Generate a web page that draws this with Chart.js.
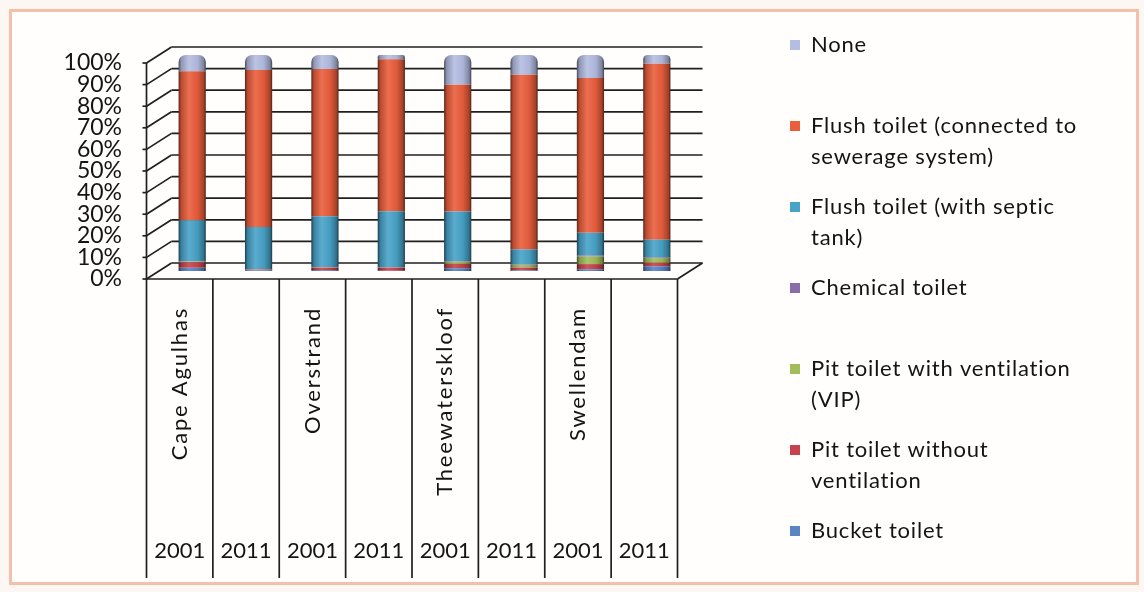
<!DOCTYPE html>
<html>
<head>
<meta charset="utf-8">
<script src="https://cdn.jsdelivr.net/npm/chart.js@4.4.1/dist/chart.umd.min.js"></script>
<style>
  html, body { margin: 0; padding: 0; background: #fdf7f4; }
  #frame { position: absolute; left: 9px; top: 9px; width: 1124px; height: 570px; border: 3px solid #f4bfab; background: #fffefc; }
  #wrap { position: absolute; left: 0; top: 0; width: 1144px; height: 592px; }
</style>
</head>
<body>
<div id="frame"></div>
<div id="wrap"><canvas id="chartToilets" width="1144" height="592"></canvas></div>
<script>
// categories: municipality (shown once per pair) and census year
const municipalities = ["Cape Agulhas", "", "Overstrand", "", "Theewaterskloof", "", "Swellendam", ""];
const years = ["2001", "2011", "2001", "2011", "2001", "2011", "2001", "2011"];
const yTicks = [0, 10, 20, 30, 40, 50, 60, 70, 80, 90, 100];

// share of households (%)
const bucketToilet   = [1.5, 0.3, 0.4, 0.1, 1.3, 0.3, 0.8, 2.2];
const pitNoVent      = [2.5, 0.4, 1.2, 1.5, 2.0, 1.3, 2.4, 1.6];
const pitVip         = [0.3, 0.1, 0.1, 0.05, 1.0, 1.2, 3.5, 2.2];
const chemical       = [0.2, 0.1, 0.1, 0.05, 0.3, 0.2, 0.5, 0.3];
const flushSeptic    = [19.0, 19.5, 23.5, 26.0, 23.0, 7.0, 10.5, 8.2];
const flushSewerage  = [69.0, 72.6, 68.2, 70.3, 58.6, 80.8, 71.7, 81.5];
const noneToilet     = [7.5, 7.0, 6.5, 2.0, 13.8, 9.2, 10.6, 4.0];

// legend text, split the way the original wraps it
const seriesLabels = [
  ["Bucket toilet"],
  ["Pit toilet without", "ventilation"],
  ["Pit toilet with ventilation", "(VIP)"],
  ["Chemical toilet"],
  ["Flush toilet (with septic", "tank)"],
  ["Flush toilet (connected to", "sewerage system)"],
  ["None"]
];
const seriesColors = ["#5a84c2", "#c6434b", "#a1bd5c", "#8a6ca8", "#48a3c8", "#ea5e3c", "#b4bde2"];
const seriesValues = [bucketToilet, pitNoVent, pitVip, chemical, flushSeptic, flushSewerage, noneToilet];

const depth = { x: 12.5, y: 8 };   // half depth of the 3d box
const barFrac = 0.41;
const textColor = "#141414";

function shade(hex, amt) {
  let r = parseInt(hex.slice(1, 3), 16), g = parseInt(hex.slice(3, 5), 16), b = parseInt(hex.slice(5, 7), 16);
  const f = (c) => Math.round(amt < 0 ? c * (1 + amt) : c + (255 - c) * amt);
  return "rgb(" + f(r) + "," + f(g) + "," + f(b) + ")";
}

// cylinder-ish horizontal shading
function cylinder(color) {
  return function (c) {
    const xs = c.chart.scales.x;
    if (!xs || c.dataIndex === undefined) return color;
    const cx = xs.getPixelForValue(c.dataIndex);
    const hw = (xs.width / years.length) * barFrac / 2;
    if (!isFinite(cx) || !isFinite(hw) || hw <= 0) return color;
    const g = c.chart.ctx.createLinearGradient(cx - hw, 0, cx + hw, 0);
    g.addColorStop(0, shade(color, -0.6));
    g.addColorStop(0.1, shade(color, -0.2));
    g.addColorStop(0.38, shade(color, 0.1));
    g.addColorStop(0.7, shade(color, -0.05));
    g.addColorStop(0.92, shade(color, -0.3));
    g.addColorStop(1, shade(color, -0.65));
    return g;
  };
}

function line(ctx, x1, y1, x2, y2) {
  ctx.beginPath(); ctx.moveTo(x1, y1); ctx.lineTo(x2, y2); ctx.stroke();
}

// back wall, floor and the category table lines
const box3d = {
  id: "box3d",
  beforeDatasetsDraw(chart) {
    const { ctx, chartArea } = chart;
    const ys = chart.scales.y, xs = chart.scales.x;
    const left = chartArea.left, right = chartArea.right;
    const bottomEnd = chart.height - 14;
    ctx.save();
    ctx.strokeStyle = "#1f1f1f";
    ctx.lineWidth = 1.7;
    yTicks.forEach((v) => {
      const y = ys.getPixelForValue(v);
      line(ctx, left + depth.x, y - depth.y, right + depth.x, y - depth.y);
      line(ctx, left - depth.x, y + depth.y, left + depth.x, y - depth.y);
      line(ctx, left - depth.x - 4, y + depth.y, left - depth.x, y + depth.y);
    });
    const y0 = ys.getPixelForValue(0), y100 = ys.getPixelForValue(100);
    line(ctx, left - depth.x, y0 + depth.y, right - depth.x, y0 + depth.y);
    line(ctx, right - depth.x, y0 + depth.y, right + depth.x, y0 - depth.y);
    line(ctx, left - depth.x, y100 + depth.y, left - depth.x, bottomEnd);
    const half = xs.width / years.length / 2;
    for (let i = 0; i < years.length; i++) {
      const xb = xs.getPixelForValue(i) + half - depth.x;
      line(ctx, xb, y0 + depth.y, xb, bottomEnd);
    }
    ctx.restore();
  },
  afterDraw(chart) {
    // municipality names, vertical, top-anchored under the floor
    const { ctx, chartArea } = chart;
    const xs = chart.scales.x;
    ctx.save();
    ctx.font = "22px Lato";
    ctx.letterSpacing = "1.8px";
    ctx.fillStyle = textColor;
    ctx.textAlign = "right";
    ctx.textBaseline = "middle";
    municipalities.forEach((name, i) => {
      if (!name) return;
      ctx.save();
      ctx.translate(xs.getPixelForValue(i) - depth.x, chartArea.bottom + 36);
      ctx.rotate(-Math.PI / 2);
      ctx.fillText(name, 0, 0);
      ctx.restore();
    });
    ctx.restore();
  }
};

// legend on the right, top item = top of the stack
const sideLegend = {
  id: "sideLegend",
  afterDraw(chart) {
    const ctx = chart.ctx;
    const x0 = 790, top = 45, step = 81, lineH = 31;
    ctx.save();
    ctx.font = "22px Lato";
    ctx.letterSpacing = "0.8px";
    ctx.textBaseline = "middle";
    ctx.textAlign = "left";
    const n = chart.data.datasets.length;
    for (let k = 0; k < n; k++) {
      const i = n - 1 - k;
      const y = top + k * step;
      ctx.fillStyle = seriesColors[i];
      ctx.fillRect(x0, y - 5, 10, 10);
      ctx.fillStyle = textColor;
      seriesLabels[i].forEach((t, j) => ctx.fillText(t, x0 + 21, y + j * lineH));
    }
    ctx.restore();
  }
};

Chart.defaults.font.family = "Lato";
Chart.defaults.color = textColor;

const lastSeries = seriesValues.length - 1;

new Chart(document.getElementById("chartToilets").getContext("2d"), {
  type: "bar",
  data: {
    labels: years,
    datasets: seriesValues.map((vals, i) => ({
      label: seriesLabels[i].join(" "),
      data: vals,
      backgroundColor: cylinder(seriesColors[i]),
      borderWidth: 0,
      borderSkipped: i === lastSeries ? "bottom" : "start",
      borderRadius: i === lastSeries ? { topLeft: 7, topRight: 7 } : 0,
      barPercentage: 0.82,
      categoryPercentage: 0.5
    }))
  },
  options: {
    responsive: false,
    animation: false,
    layout: { padding: { left: 0, top: 55, right: 454, bottom: 12 } },
    plugins: { legend: { display: false }, tooltip: { enabled: false } },
    scales: {
      y: {
        stacked: true,
        min: 0,
        max: 100,
        afterBuildTicks: (s) => { s.ticks = yTicks.map((v) => ({ value: v })); },
        ticks: { callback: (v) => v + "%", font: { size: 23 }, padding: 37, labelOffset: 8, autoSkip: false },
        grid: { display: false, drawTicks: false },
        border: { display: false },
        afterFit: (s) => { s.width = 159; }
      },
      x: {
        stacked: true,
        position: "bottom",
        ticks: { font: { size: 22 }, maxRotation: 0, autoSkip: false, padding: 4, labelOffset: -depth.x },
        // invisible long tick marks push the year row down to the table bottom
        grid: { display: true, drawOnChartArea: false, drawTicks: true, tickLength: 263, color: "rgba(0,0,0,0)" },
        border: { display: false },
        afterFit: (s) => { s.height = 309; }
      }
    }
  },
  plugins: [box3d, sideLegend]
});
</script>
</body>
</html>
